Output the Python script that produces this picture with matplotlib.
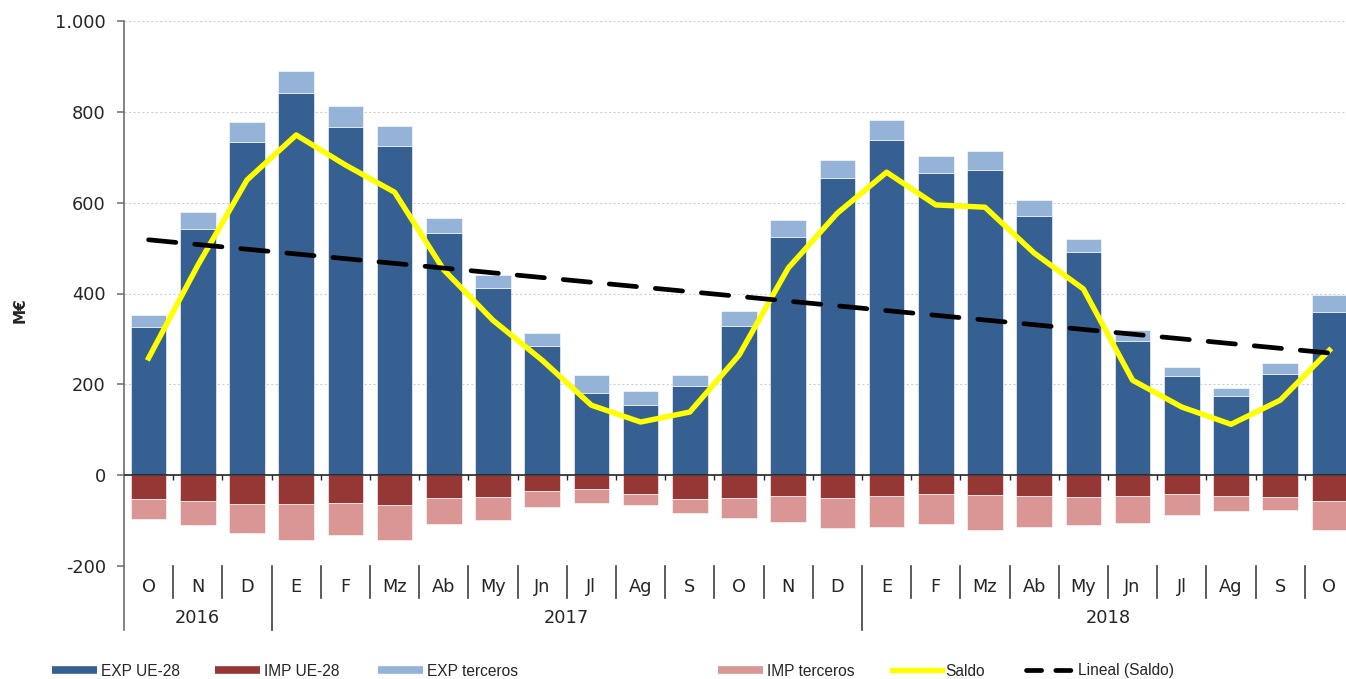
#!/usr/bin/env python3
"""Comercio exterior mensual: EXP/IMP UE-28 y terceros, saldo (M€)"""

import matplotlib

matplotlib.use("Agg")
import matplotlib.pyplot as plt
import matplotlib.transforms as mtransforms
import numpy as np
from matplotlib.lines import Line2D
from matplotlib.ticker import FuncFormatter, MultipleLocator

MONTHS = ["O", "N", "D", "E", "F", "Mz", "Ab", "My", "Jn", "Jl", "Ag", "S",
          "O", "N", "D", "E", "F", "Mz", "Ab", "My", "Jn", "Jl", "Ag", "S", "O"]
YEARS = [("2016", 0, 2), ("2017", 3, 14), ("2018", 15, 24)]

EXP_UE = [326, 542, 733, 841, 767, 725, 533, 412, 284, 181, 154, 196,
          328, 524, 654, 738, 665, 672, 570, 491, 295, 218, 174, 222, 360]
EXP_TER = [26, 37, 45, 49, 46, 44, 33, 28, 29, 39, 31, 24,
           33, 38, 40, 44, 38, 42, 36, 29, 25, 21, 19, 25, 36]
IMP_UE = [-53, -57, -64, -64, -62, -66, -51, -48, -35, -31, -42, -53,
          -51, -46, -51, -46, -42, -44, -46, -48, -46, -42, -46, -48, -57]
IMP_TER = [-44, -53, -64, -79, -70, -77, -57, -51, -35, -31, -24, -31,
           -44, -58, -66, -69, -66, -77, -69, -62, -60, -46, -33, -29, -64]
SALDO = [258, 462, 650, 749, 683, 623, 452, 341, 253, 154, 117, 139,
         264, 456, 577, 667, 595, 590, 489, 410, 209, 150, 112, 165, 275]

C_EXP_UE = "#376092"
C_IMP_UE = "#953735"
C_EXP_TER = "#95B3D7"
C_IMP_TER = "#D99694"
C_SALDO = "#FFFF00"
C_AXIS = "#6E6E6E"
C_TEXT = "#262626"

W, H = 1346, 679


def FmtThousands(v, _pos):
    return f"{v:,.0f}".replace(",", ".")


def DrawSeries(ax, x):
    w = 0.72
    kw = dict(edgecolor="white", linewidth=0.4, zorder=2)
    ax.bar(x, EXP_UE, w, color=C_EXP_UE, **kw)
    ax.bar(x, EXP_TER, w, bottom=EXP_UE, color=C_EXP_TER, **kw)
    ax.bar(x, IMP_UE, w, color=C_IMP_UE, **kw)
    ax.bar(x, IMP_TER, w, bottom=IMP_UE, color=C_IMP_TER, **kw)

    ax.plot(x, SALDO, color=C_SALDO, lw=3.9, zorder=4, solid_joinstyle="round")
    # Excel linear trendline of Saldo
    coef = np.polyfit(x, SALDO, 1)
    ax.plot(x, np.polyval(coef, x), color="black", lw=3.4, dashes=(5.8, 4.0),
            dash_capstyle="round", zorder=5)


def StyleAxes(ax, n):
    ax.set_xlim(-0.5, n - 0.5)
    ax.set_ylim(-200, 1000)
    ax.yaxis.set_major_locator(MultipleLocator(200))
    ax.yaxis.set_major_formatter(FuncFormatter(FmtThousands))
    ax.yaxis.grid(True, color="#D0D0D0", linestyle=(0, (2, 2)), lw=0.8)
    ax.set_axisbelow(True)
    for s in ("top", "right", "bottom"):
        ax.spines[s].set_visible(False)
    ax.spines["left"].set_color(C_AXIS)
    ax.spines["left"].set_linewidth(1.2)
    ax.tick_params(axis="y", length=5, width=1.1, color=C_AXIS, pad=8,
                   labelsize=12.8, labelcolor=C_TEXT)
    ax.set_xticks([])

    ax.axhline(0, color=C_TEXT, lw=1.2, zorder=3)
    ax.vlines(np.arange(0.5, n - 0.5, 1), -11, 0, color=C_TEXT, lw=1.0, zorder=3)

    trans = mtransforms.blended_transform_factory(ax.transData, ax.transAxes)
    year_bounds = {-0.5} | {start - 0.5 for _, start, _ in YEARS}
    for b in np.arange(-0.5, n, 1):
        y_end = -0.1174 if b in year_bounds else -0.0587
        ax.plot([b, b], [0, y_end], transform=trans, clip_on=False,
                color=C_AXIS if b == -0.5 else "#404040", lw=1.2)
    for i, m in enumerate(MONTHS):
        ax.text(i, -0.038, m, transform=trans, ha="center", va="center",
                fontsize=12.8, color=C_TEXT)
    for label, start, end in YEARS:
        ax.text((start + end) / 2, -0.096, label, transform=trans, ha="center",
                va="center", fontsize=12.8, color=C_TEXT)


def DrawLegend(fig):
    y = 1 - 671 / H
    bar = dict(lw=5.5, solid_capstyle="butt")
    entries = [
        (52, Line2D([], [], color=C_EXP_UE, **bar), "EXP UE-28", 2.9),
        (215, Line2D([], [], color=C_IMP_UE, **bar), "IMP UE-28", 2.9),
        (378, Line2D([], [], color=C_EXP_TER, **bar), "EXP terceros", 2.9),
        (718, Line2D([], [], color=C_IMP_TER, **bar), "IMP terceros", 2.9),
        (892, Line2D([], [], color=C_SALDO, lw=3.9), "Saldo", 3.2),
        (1026, Line2D([], [], color="black", lw=3.4, dashes=(3.2, 3.0),
                      dash_capstyle="round"), "Lineal (Saldo)", 3.1),
    ]
    for x0, handle, label, hlen in entries:
        fig.legend(handles=[handle], labels=[label], loc="center left",
                   bbox_to_anchor=(x0 / W, y), frameon=False, borderpad=0,
                   borderaxespad=0, handlelength=hlen, handletextpad=0.25,
                   prop={"family": "Liberation Sans", "size": 11.2},
                   labelcolor=C_TEXT)


def Main():
    fig = plt.figure(figsize=(W / 100, H / 100), dpi=100)
    ax = fig.add_axes([124 / W, 1 - 566 / H, (1354 - 124) / W, (566 - 21) / H])
    x = np.arange(len(MONTHS))
    DrawSeries(ax, x)
    StyleAxes(ax, len(MONTHS))
    fig.text(20 / W, 1 - 310 / H, "M€", rotation=90, fontweight="bold",
             fontsize=11, ha="center", va="center", color=C_TEXT)
    DrawLegend(fig)
    fig.savefig("out.png", dpi=100)
    plt.close(fig)
    return 0


if __name__ == "__main__":
    raise SystemExit(Main())
